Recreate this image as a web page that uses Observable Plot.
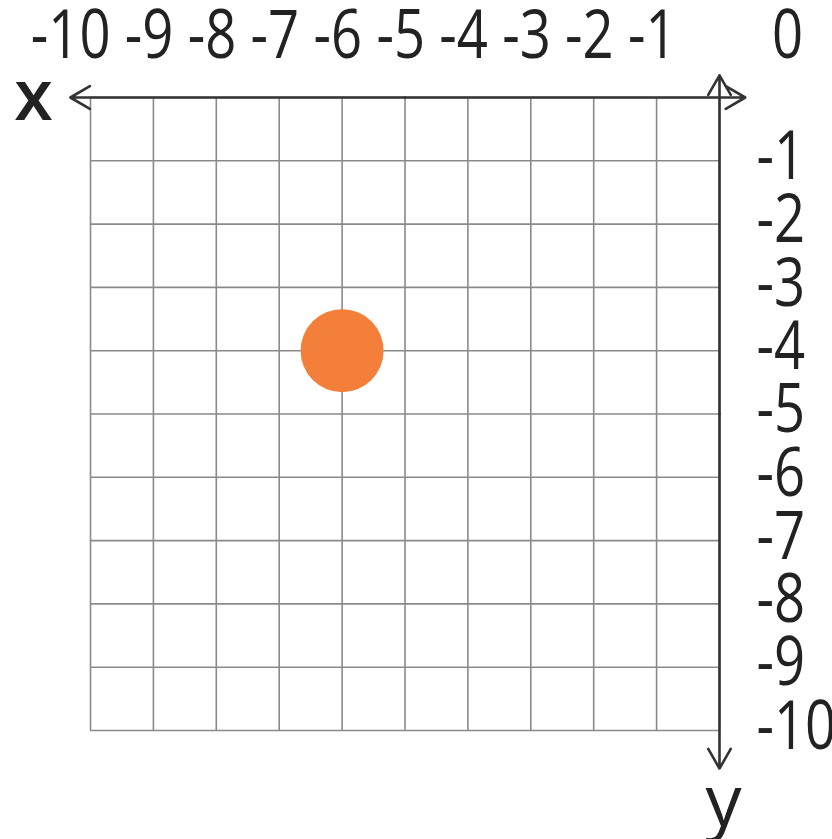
<!DOCTYPE html>
<html>
<head>
<meta charset="utf-8">
<script src="https://cdn.jsdelivr.net/npm/d3@7"></script>
<script src="https://cdn.jsdelivr.net/npm/@observablehq/plot@0.6"></script>
<style>
  html, body { margin: 0; padding: 0; background: #fff; }
  svg { display: block; }
</style>
</head>
<body>
<div id="chart"></div>
<script>
// ---- data ----
const gridX = [-10, -9, -8, -7, -6, -5, -4, -3, -2, -1, 0];
const gridY = [-10, -9, -8, -7, -6, -5, -4, -3, -2, -1, 0];
const topTickValues = [-10, -9, -8, -7, -6, -5, -4, -3, -2, -1];
const topTickLabels = ["-10", "-9", "-8", "-7", "-6", "-5", "-4", "-3", "-2", "-1"];
const rightTickValues = [-1, -2, -3, -4, -5, -6, -7, -8, -9, -10];
const rightTickLabels = ["-1", "-2", "-3", "-4", "-5", "-6", "-7", "-8", "-9", "-10"];
const originLabel = ["0"];
const pointX = [-6];
const pointY = [-4];
const xAxisExtent = [-10.32, 0.41];
const yAxisExtent = [0.35, -10.6];
const axisNames = ["x", "y"];

const points = pointX.map((x, i) => ({x, y: pointY[i]}));
const topTicks = topTickValues.map((v, i) => ({v, label: topTickLabels[i]}));
const rightTicks = rightTickValues.map((v, i) => ({v, label: rightTickLabels[i]}));

const font = "'Open Sans', sans-serif";
const labelSize = 68;
const arrowStyle = {stroke: "#333", strokeWidth: 2.6, headLength: 13, headAngle: 60, clip: false};

const chart = Plot.plot({
  width: 832,
  height: 839,
  marginLeft: 90,
  marginRight: 113,
  marginTop: 97,
  marginBottom: 109,
  x: {domain: [-10, 0], axis: null},
  y: {domain: [-10, 0], axis: null},
  style: {fontFamily: font, background: "#fff", overflow: "visible"},
  marks: [
    Plot.ruleX(gridX, {x: d => d, y1: -10, y2: 0, stroke: "#8a8a8a", strokeWidth: 1.6}),
    Plot.ruleY(gridY, {y: d => d, x1: -10, x2: 0, stroke: "#8a8a8a", strokeWidth: 1.6}),
    // x axis (double-headed)
    Plot.arrow([0], {x1: -5, y1: 0, x2: xAxisExtent[0], y2: 0, ...arrowStyle}),
    Plot.arrow([0], {x1: -5, y1: 0, x2: xAxisExtent[1], y2: 0, ...arrowStyle}),
    // y axis (double-headed)
    Plot.arrow([0], {x1: 0, y1: -5, x2: 0, y2: yAxisExtent[0], ...arrowStyle}),
    Plot.arrow([0], {x1: 0, y1: -5, x2: 0, y2: yAxisExtent[1], ...arrowStyle}),
    // point
    Plot.dot(points, {x: "x", y: "y", r: 41.5, fill: "#f47f3a", stroke: "none"}),
    // top tick labels
    Plot.text(topTicks, {x: "v", y: () => 0, text: "label", dx: 20, dy: -61, fontSize: labelSize, fill: "#222", textAnchor: "end", lineAnchor: "middle", letterSpacing: -1}),
    // origin label
    Plot.text(originLabel, {x: () => 0, y: () => 0, text: d => d, dx: 68, dy: -61, fontSize: labelSize, fill: "#222", textAnchor: "middle", lineAnchor: "middle"}),
    // right tick labels
    Plot.text(rightTicks, {x: () => 0, y: "v", text: "label", dx: 37, dy: -3.5, fontSize: labelSize, fill: "#222", textAnchor: "start", lineAnchor: "middle", letterSpacing: -1}),
    // axis names
    Plot.text([axisNames[0]], {x: () => -10, y: () => 0, text: d => d, dx: -57, dy: 0, fontSize: 70, fontWeight: 600, fill: "#222", textAnchor: "middle", lineAnchor: "middle"}),
    Plot.text([axisNames[1]], {x: () => 0, y: () => -10, text: d => d, dx: 4, dy: 72, fontSize: 72, fill: "#222", textAnchor: "middle", lineAnchor: "middle"})
  ]
});

// condense the numeric labels horizontally (reference font is a narrow face)
d3.select(chart).selectAll("text").each(function() {
  const txt = this.textContent;
  if (/^-?\d+$/.test(txt)) {
    const t = this.getAttribute("transform") || "";
    this.setAttribute("transform", t + " scale(0.8,1)");
  }
});

document.getElementById("chart").appendChild(chart);
</script>
</body>
</html>
